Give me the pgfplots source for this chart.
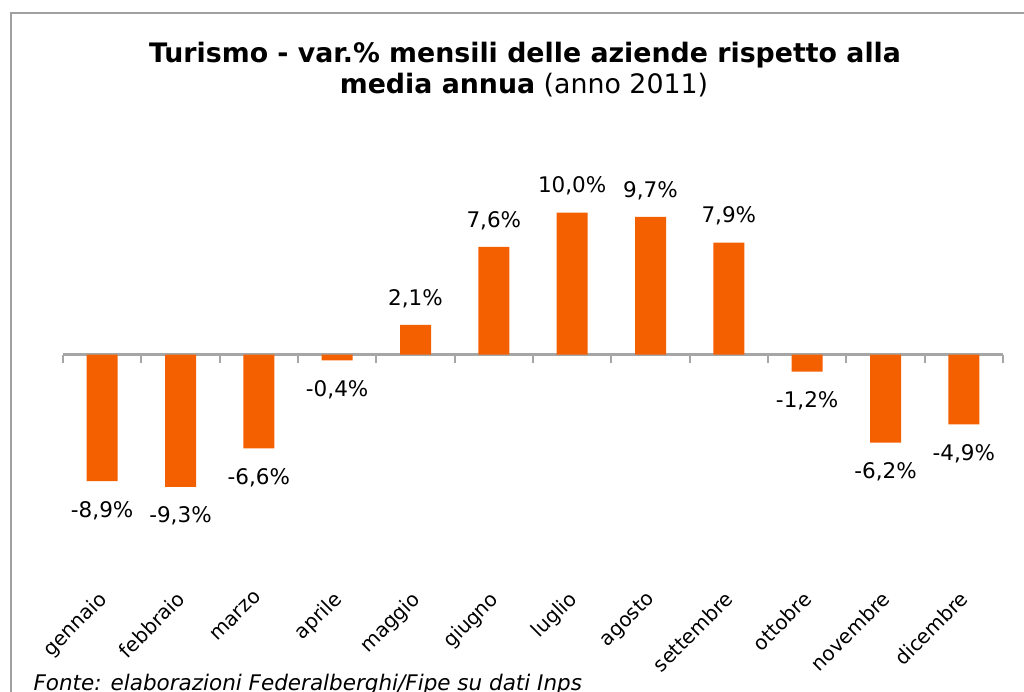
\documentclass[border=0pt]{standalone}
\usepackage{pgfplots}
\pgfplotsset{compat=1.18}
\usepackage{pgfplotstable}
\usepackage{fontspec}
\setmainfont{DejaVu Sans}
\definecolor{barorange}{RGB}{244,96,0}
\definecolor{axgray}{RGB}{166,166,166}
\definecolor{framegray}{RGB}{160,160,160}

\pgfplotstableread{
x y
0 -8.9
1 -9.3
2 -6.6
3 -0.4
4 2.1
5 7.6
6 10.0
7 9.7
8 7.9
9 -1.2
10 -6.2
11 -4.9
}\datatable

\begin{document}
\begin{tikzpicture}[x=1pt,y=1pt]
\useasboundingbox (0,0) rectangle (1024,691);
\draw[framegray, line width=2pt] (11,-10) -- (11,678) -- (1040,678);
\node[anchor=base, font=\fontsize{26.8}{30}\selectfont\bfseries] at (525,628) {Turismo - var.\% mensili delle aziende rispetto alla};
\node[anchor=base, font=\fontsize{26.8}{30}\selectfont] at (524,597) {\textbf{media annua} (anno 2011)};
\begin{axis}[
  at={(63pt,194.3pt)}, anchor=south west,
  scale only axis, width=940pt, height=298.2pt,
  xmin=-0.5, xmax=11.5, ymin=-10, ymax=11,
  axis y line=none,
  axis x line*=middle,
  x axis line style={axgray, line width=3pt},
  xtick={0,...,11},
  xticklabels={gennaio,febbraio,marzo,aprile,maggio,giugno,luglio,agosto,settembre,ottobre,novembre,dicembre},
  major tick length=0pt,
  minor xtick={-0.5,0.5,...,11.5},
  minor tick length=8pt,
  tick align=outside,
  minor tick style={axgray, line width=2pt},
  xticklabel style={font=\fontsize{20}{22}\selectfont, yshift=-230pt, xshift=-5pt, rotate=45, anchor=north east},
  clip=false,
]
\addplot[ybar, bar width=31pt, fill=barorange, draw=none,
  visualization depends on={y \as \rawy},
  nodes near coords={\pgfmathprintnumber[fixed,fixed zerofill,precision=1,use comma,assume math mode=true]{\pgfplotspointmeta}\%},
  nodes near coords style={font=\fontsize{21.5}{23}\selectfont, text=black, anchor=center, yshift={ifthenelse(\rawy>0,26.5,-29.5)}},
] table[x=x,y=y]{\datatable};
\end{axis}
\node[anchor=base west, font=\fontsize{21.5}{24}\selectfont\itshape] at (30,1) {Fonte: elaborazioni Federalberghi/Fipe su dati Inps};
\end{tikzpicture}
\end{document}
